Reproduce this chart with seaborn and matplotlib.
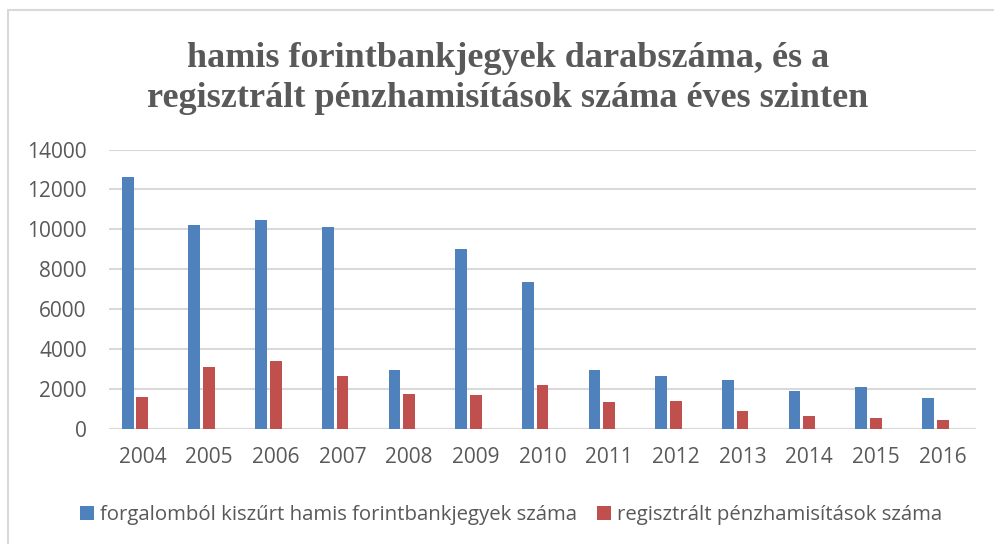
import matplotlib
matplotlib.use("Agg")
import matplotlib.pyplot as plt
import seaborn as sns
import pandas as pd
from matplotlib.patches import Patch, Rectangle

years = ["2004", "2005", "2006", "2007", "2008", "2009", "2010",
         "2011", "2012", "2013", "2014", "2015", "2016"]
hamis_bankjegy = [12620, 10240, 10490, 10120, 2970, 9020, 7350,
                  2950, 2640, 2440, 1920, 2120, 1540]
penzhamisitas = [1600, 3090, 3400, 2650, 1750, 1720, 2190,
                 1370, 1400, 890, 670, 560, 470]
series_names = ["forgalomból kiszűrt hamis forintbankjegyek száma",
                "regisztrált pénzhamisítások száma"]
title_lines = ["hamis forintbankjegyek darabszáma, és a",
               "regisztrált pénzhamisítások száma éves szinten"]
y_ticks = [0, 2000, 4000, 6000, 8000, 10000, 12000, 14000]

BLUE = "#4F81BD"
RED = "#C0504D"
GRID = "#D9D9D9"
TXT = "#595959"

sns.set_theme(style="white")
plt.rcParams["font.family"] = ["Open Sans", "DejaVu Sans"]

df = pd.DataFrame({
    "year": years * 2,
    "value": hamis_bankjegy + penzhamisitas,
    "series": [series_names[0]] * len(years) + [series_names[1]] * len(years),
})
# Excel chart has an empty third series slot per category
hue_order = series_names + ["_empty"]

fig = plt.figure(figsize=(9.94, 5.44), dpi=100)
ax = fig.add_axes([109 / 994, 1 - 429 / 544, (976 - 109) / 994, (429 - 149.5) / 544])

sns.barplot(data=df, x="year", y="value", hue="series", hue_order=hue_order,
            palette={series_names[0]: BLUE, series_names[1]: RED, "_empty": "white"},
            width=0.66, gap=0.2, order=years, legend=False, ax=ax,
            linewidth=0, saturation=1, errorbar=None, zorder=3)

ax.set_ylim(0, 14000)
ax.set_xlim(-0.5, len(years) - 0.5)
ax.set_yticks(y_ticks)
ax.set_yticklabels([str(t) for t in y_ticks])
ax.yaxis.grid(True, color=GRID, linewidth=1.5, zorder=0)
ax.set_axisbelow(True)
for s in ax.spines.values():
    s.set_visible(False)
ax.axhline(0, color=GRID, linewidth=1.5, zorder=1)
ax.tick_params(axis="both", length=0, labelsize=15, colors=TXT)
ax.tick_params(axis="y", pad=16)
ax.tick_params(axis="x", pad=13)
ax.set_xlabel("")
ax.set_ylabel("")

# title
fig.text(508 / 994, 1 - 67 / 544, title_lines[0], ha="center", va="baseline",
         fontfamily="Liberation Serif", fontweight="bold", fontsize=26, color=TXT)
fig.text(508 / 994, 1 - 107 / 544, title_lines[1], ha="center", va="baseline",
         fontfamily="Liberation Serif", fontweight="bold", fontsize=26, color=TXT)

# legend
handles = [Patch(facecolor=BLUE, edgecolor="none"), Patch(facecolor=RED, edgecolor="none")]
fig.legend(handles, series_names, loc="center", bbox_to_anchor=(511 / 994, 1 - 515 / 544),
           ncol=2, frameon=False, fontsize=14.7, labelcolor=TXT,
           handlelength=0.7, handleheight=0.7, handletextpad=0.3, columnspacing=0.95)

# chart border
fig.patches.append(Rectangle((8 / 994, -0.1), 1.2, 1 - 10 / 544 + 0.1,
                             transform=fig.transFigure, fill=False,
                             edgecolor=GRID, linewidth=1.5))

fig.savefig("out.png", dpi=100)
